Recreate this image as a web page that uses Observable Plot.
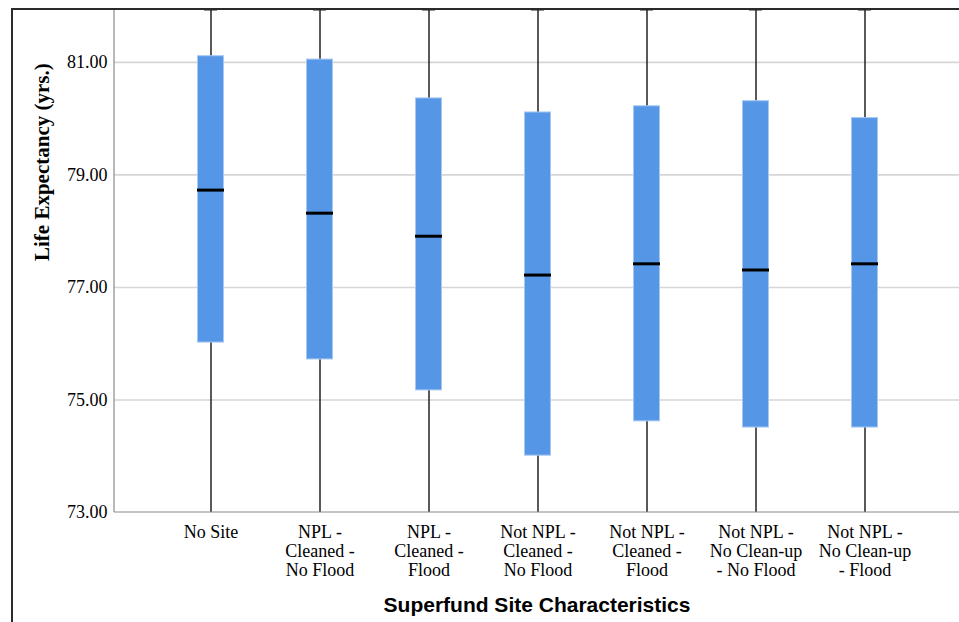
<!DOCTYPE html>
<html>
<head>
<meta charset="utf-8">
<script src="https://cdn.jsdelivr.net/npm/d3@7"></script>
<script src="https://cdn.jsdelivr.net/npm/@observablehq/plot@0.6"></script>
<style>
  html, body { margin: 0; padding: 0; background: #fff; }
  #chart svg { display: block; }
</style>
</head>
<body>
<div id="chart"></div>
<script>
const categories = [
  "No Site",
  "NPL -\nCleaned -\nNo Flood",
  "NPL -\nCleaned -\nFlood",
  "Not NPL -\nCleaned -\nNo Flood",
  "Not NPL -\nCleaned -\nFlood",
  "Not NPL -\nNo Clean-up\n- No Flood",
  "Not NPL -\nNo Clean-up\n- Flood"
];
const whiskerLow  = [73.00, 73.00, 73.00, 73.00, 73.00, 73.00, 73.00];
const q1          = [76.02, 75.72, 75.17, 74.01, 74.62, 74.51, 74.51];
const median      = [78.73, 78.32, 77.91, 77.22, 77.42, 77.31, 77.42];
const q3          = [81.11, 81.05, 80.36, 80.11, 80.22, 80.31, 80.01];
const whiskerHigh = [81.94, 81.94, 81.94, 81.94, 81.94, 81.94, 81.94];
const yTicks = [73, 75, 77, 79, 81];
const gridValues = [75, 77, 79, 81];
const yDomain = [73, 81.94];
const yTitle = "Life Expectancy (yrs.)";
const xTitle = "Superfund Site Characteristics";

const data = categories.map((c, i) => ({
  cat: c, lo: whiskerLow[i], q1: q1[i], med: median[i], q3: q3[i], hi: whiskerHigh[i]
}));

const serif = "'Liberation Serif', 'Times New Roman', serif";
const sans = "'Liberation Sans', Arial, sans-serif";

const frameLines = (index, scales, values, dims) => {
  const g = d3.create("svg:g");
  const {width, height, marginLeft, marginTop, marginBottom} = dims;
  const bottom = height - marginBottom;
  g.append("line").attr("x1", marginLeft).attr("x2", marginLeft)
    .attr("y1", marginTop).attr("y2", bottom)
    .attr("stroke", "#8a8a8a").attr("stroke-width", 1.2);
  g.append("line").attr("x1", marginLeft).attr("x2", width)
    .attr("y1", bottom).attr("y2", bottom)
    .attr("stroke", "#8a8a8a").attr("stroke-width", 1.2);
  g.append("line").attr("x1", 12).attr("x2", 12)
    .attr("y1", marginTop).attr("y2", height)
    .attr("stroke", "#2a2a2a").attr("stroke-width", 2);
  g.append("line").attr("x1", 11).attr("x2", width)
    .attr("y1", marginTop).attr("y2", marginTop)
    .attr("stroke", "#2a2a2a").attr("stroke-width", 2);
  return g.node();
};

const chart = Plot.plot({
  width: 959,
  height: 622,
  marginLeft: 114,
  marginRight: 0,
  marginTop: 9,
  marginBottom: 110,
  style: {fontFamily: serif, background: "#fff", color: "#000"},
  x: {type: "band", domain: categories, range: [155.5, 918.5], padding: 0},
  y: {domain: yDomain},
  marks: [
    Plot.ruleY(gridValues, {stroke: "#d6d6d6", strokeWidth: 1.6}),
    Plot.ruleX(data, {x: "cat", y1: "lo", y2: "hi", stroke: "#222", strokeWidth: 1.5, clip: true}),
    Plot.tickY(data, {x: "cat", y: "hi", stroke: "#222", strokeWidth: 2, insetLeft: 48, insetRight: 48, clip: true}),
    Plot.barY(data, {x: "cat", y1: "q1", y2: "q3", fill: "#5597e6", stroke: "#a8c8f2", strokeWidth: 1, insetLeft: 41.5, insetRight: 41.5}),
    Plot.tickY(data, {x: "cat", y: "med", stroke: "#000", strokeWidth: 3, insetLeft: 41, insetRight: 41}),
    Plot.axisY({ticks: yTicks, tickFormat: d3.format(".2f"), tickSize: 0, tickPadding: 7, fontSize: 18, fontFamily: serif, label: null}),
    Plot.axisX({tickSize: 0, tickPadding: 12, fontSize: 18, fontFamily: serif, lineHeight: 1.05, label: null}),
    Plot.text([yTitle], {frameAnchor: "left", dx: -72, rotate: -90, fontSize: 21, fontWeight: "bold", fontFamily: serif, fill: "#000"}),
    Plot.text([xTitle], {frameAnchor: "bottom", dy: 93, lineAnchor: "middle", fontSize: 21, fontWeight: "bold", fontFamily: sans, fill: "#000"}),
    frameLines
  ]
});
document.getElementById("chart").appendChild(chart);
</script>
</body>
</html>
